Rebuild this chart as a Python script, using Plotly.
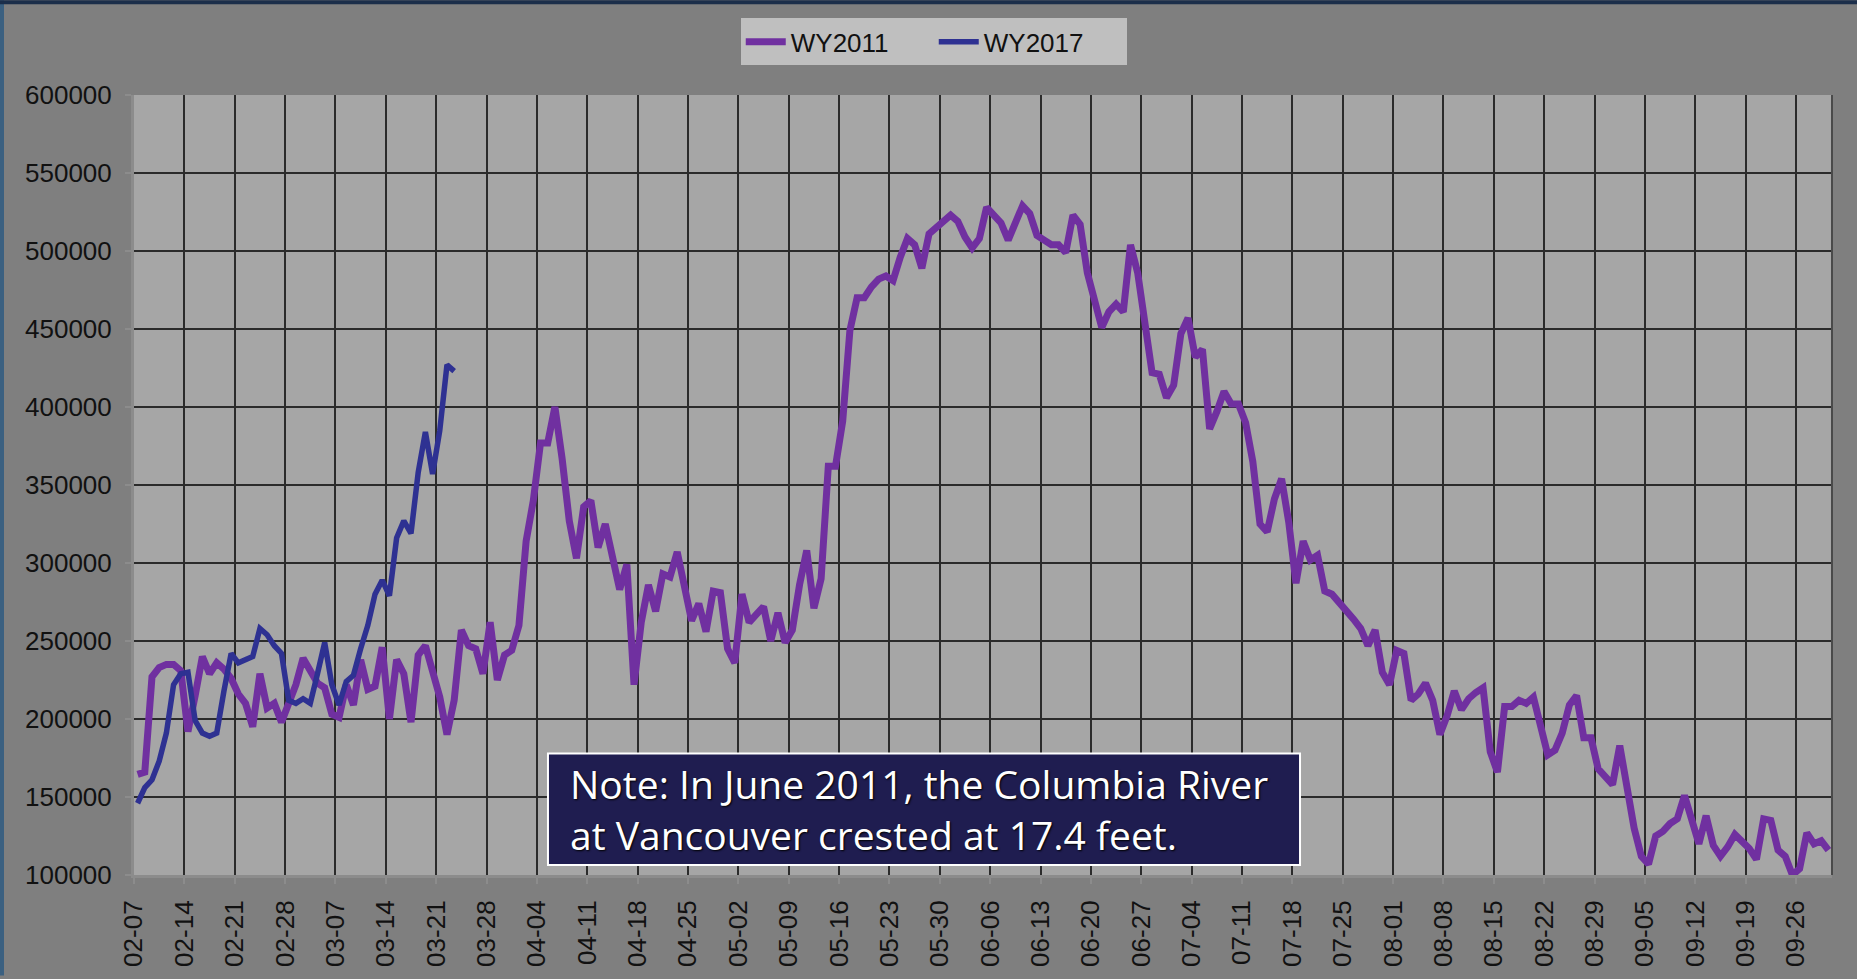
import pandas as pd
import plotly.graph_objects as go

# daily flow, starting 02-07
start_date = '2011-02-07'

wy2011 = [
    164500, 166000, 227000, 233000, 235000, 235000, 231000, 192000, 215000, 240000,
    229000, 236000, 232000, 226000, 216000, 210000, 195000, 229000, 207000, 210000,
    198000, 209000, 222000, 239000, 231000, 223000, 220000, 203000, 201000, 222000,
    209000, 238000, 219000, 221000, 246000, 200000, 238000, 229000, 198000, 241000,
    247000, 231000, 214000, 190000, 212000, 257000, 247000, 245000, 229000, 262000,
    225000, 241000, 244000, 260000, 314000, 340000, 377000, 377000, 400000, 367000,
    327000, 303000, 336000, 340000, 310000, 325000, 303000, 283000, 299000, 222000,
    262000, 286000, 269000, 293000, 291000, 307000, 285000, 263000, 274000, 256000,
    282000, 281000, 245000, 236000, 280000, 262000, 267000, 272000, 250000, 268000,
    249000, 257000, 286000, 308000, 271000, 290000, 362000, 362000, 391000, 449000,
    470000, 470000, 477000, 482000, 484000, 481000, 496000, 508000, 504000, 489000,
    511000, 515000, 518000, 523000, 519000, 509000, 502000, 508000, 528000, 523000,
    518000, 507000, 518000, 529000, 524000, 510000, 507000, 504000, 504000, 499000,
    523000, 517000, 486000, 469000, 451000, 461000, 466000, 461000, 504000, 486000,
    452000, 422000, 421000, 406000, 414000, 447000, 457000, 432000, 437000, 386000,
    397000, 410000, 402000, 402000, 390000, 365000, 325000, 320000, 341000, 354000,
    326000, 287000, 314000, 302000, 305000, 282000, 280000, 275000, 270000, 264000,
    258000, 247000, 257000, 230000, 222000, 244000, 242000, 212000, 216000, 223000,
    212000, 190000, 202000, 218000, 206000, 213000, 217000, 220000, 179000, 166000,
    208000, 208000, 212000, 210000, 214000, 195000, 177000, 180000, 191000, 209000,
    215000, 188000, 188000, 168000, 163000, 158000, 183000, 153000, 130000, 112000,
    107000, 125000, 128000, 133000, 136000, 151000, 134000, 120000, 138000, 119000,
    112000, 118000, 126000, 122000, 117000, 110000, 136000, 135000, 116000, 112000,
    100000, 104000, 127000, 120000, 122000, 116000,
]

wy2017 = [
    146000, 156000, 161000, 173000, 191000, 222000, 229000, 230000, 199000, 191000,
    189000, 191000, 218000, 242000, 236000, 238000, 240000, 258000, 254000, 247000,
    242000, 212000, 210000, 213000, 210000, 229000, 249000, 222000, 209000, 224000,
    228000, 245000, 260000, 280000, 289000, 279000, 316000, 327000, 319000, 358000,
    384000, 357000, 385000, 427000, 423000,
]

# each day is drawn in the middle of its slot, ticks sit on the day boundaries
dias_2011 = pd.date_range(start_date, periods=len(wy2011), freq='D') + pd.Timedelta(hours=12)
dias_2017 = pd.date_range(start_date, periods=len(wy2017), freq='D') + pd.Timedelta(hours=12)

fig = go.Figure()
fig.add_trace(go.Scatter(
    x=dias_2011, y=wy2011, mode='lines', name='WY2011',
    line=dict(color='#7030A0', width=7)
))
fig.add_trace(go.Scatter(
    x=dias_2017, y=wy2017, mode='lines', name='WY2017',
    line=dict(color='#2E3192', width=5.5)
))

# note box
fig.add_shape(type='rect', xref='paper', yref='paper',
              x0=0.2438, x1=0.6867, y0=0.0128, y1=0.1558,
              line=dict(color='white', width=2), fillcolor='#1F1D50', layer='above')
fig.add_annotation(
    xref='paper', yref='paper', x=0.2556, y=0.0843,
    xanchor='left', yanchor='middle',
    text='Note: In June 2011, the Columbia River<br>at Vancouver crested at 17.4 feet.',
    showarrow=False, align='left',
    font=dict(family='Open Sans', size=39, color='white',
              shadow='1px 1px 2px #000000')
)

# thin slide border on the top and left
fig.add_shape(type='rect', xref='paper', yref='paper',
              x0=-134/1698, x1=-130/1698, y0=-101/783, y1=1 + 95/783,
              line=dict(width=0), fillcolor='#3B6080', layer='above')
fig.add_shape(type='rect', xref='paper', yref='paper',
              x0=-134/1698, x1=1 + 25/1698, y0=1 + 91/783, y1=1 + 95/783,
              line=dict(width=0), fillcolor='#1B2E4A', layer='above')
# right border of plot area
fig.add_shape(type='line', xref='paper', yref='paper',
              x0=1, x1=1, y0=0, y1=1,
              line=dict(color='#4a4a4a', width=2))

fig.update_layout(
    width=1857, height=979,
    margin=dict(l=134, r=25, t=95, b=101),
    paper_bgcolor='#7F7F7F',
    plot_bgcolor='#A6A6A6',
    font=dict(family='Liberation Sans', size=26, color='#111111'),
    showlegend=True,
    legend=dict(
        orientation='h',
        xanchor='center', x=0.471,
        yanchor='top', y=1 + 77/783,
        bgcolor='#BFBFBF',
        font=dict(family='Liberation Sans', size=26, color='#111111'),
        itemwidth=40,
        entrywidth=138, entrywidthmode='pixels',
        tracegroupgap=0
    )
)

fig.update_xaxes(
    type='date',
    range=['2011-02-07', '2011-10-01'],
    tick0='2011-02-07', dtick=7 * 86400000,
    tickformat='%m-%d', tickangle=-90,
    showgrid=True, gridcolor='#2B2B2B', gridwidth=2,
    showline=True, linecolor='#8C8C8C', linewidth=3,
    ticks='outside', ticklen=6, tickcolor='#8C8C8C', tickwidth=2,
    ticklabelstandoff=6,
    zeroline=False
)

fig.update_yaxes(
    range=[100000, 600000], dtick=50000, tickformat='d',
    showgrid=True, gridcolor='#2B2B2B', gridwidth=2,
    showline=True, linecolor='#8C8C8C', linewidth=3,
    ticks='outside', ticklen=6, tickcolor='#8C8C8C', tickwidth=2,
    ticklabelstandoff=8,
    zeroline=False
)

fig.write_html("out.html", config={'displayModeBar': False},
               post_script="document.body.style.margin='0';")
